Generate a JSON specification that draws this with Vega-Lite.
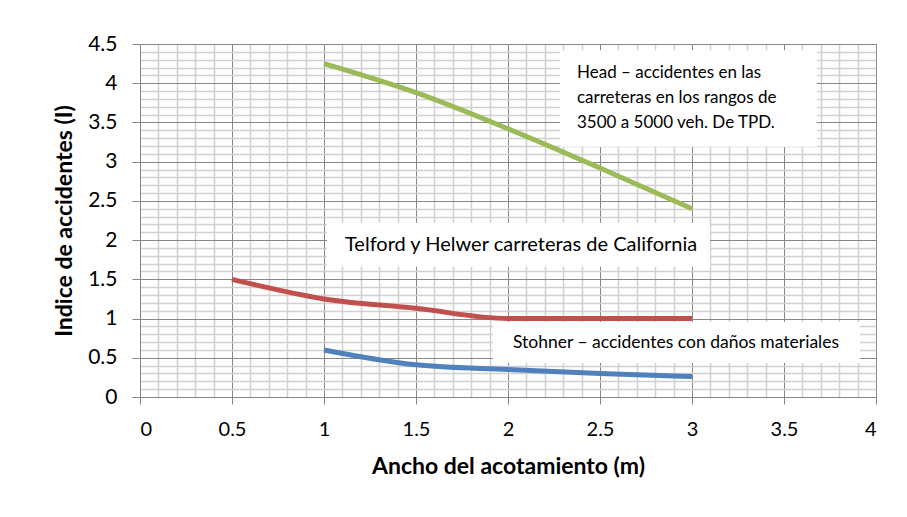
{
  "$schema": "https://vega.github.io/schema/vega-lite/v6.json",
  "width": 736,
  "height": 353,
  "autosize": "none",
  "padding": {"left": 140, "top": 44, "right": 31, "bottom": 120},
  "background": "white",
  "config": {
    "view": {"stroke": "#868686", "strokeWidth": 1},
    "font": "Lato"
  },
  "encoding": {
    "x": {
      "field": "x", "type": "quantitative",
      "scale": {"domain": [0, 4], "nice": false, "zero": false},
      "axis": {
        "values": [0,0.1,0.2,0.3,0.4,0.5,0.6,0.7,0.8,0.9,1,1.1,1.2,1.3,1.4,1.5,1.6,1.7,1.8,1.9,2,2.1,2.2,2.3,2.4,2.5,2.6,2.7,2.8,2.9,3,3.1,3.2,3.3,3.4,3.5,3.6,3.7,3.8,3.9,4],
        "labelExpr": "abs(datum.value*2-round(datum.value*2))<0.001 ? format(datum.value, '~g') : ''",
        "labelOverlap": false,
        "labelFont": "Lato", "labelFontSize": 20, "labelColor": "#000000", "labelPadding": 15,
        "grid": true,
        "gridColor": {"condition": {"test": "abs(datum.value*2-round(datum.value*2))<0.001", "value": "#868686"}, "value": "#d0d0d0"},
        "gridWidth": {"condition": {"test": "abs(datum.value*2-round(datum.value*2))<0.001", "value": 1}, "value": 1.5},
        "tickColor": "#868686",
        "tickOpacity": {"condition": {"test": "abs(datum.value*2-round(datum.value*2))<0.001", "value": 1}, "value": 0},
        "tickSize": 7,
        "domainColor": "#868686",
        "title": "Ancho del acotamiento (m)",
        "titleFont": "Lato", "titleFontSize": 23, "titleFontWeight": "bold", "titleColor": "#000000",
        "titlePadding": 16
      }
    },
    "y": {
      "field": "y", "type": "quantitative",
      "scale": {"domain": [0, 4.5], "nice": false},
      "axis": {
        "values": [0,0.1,0.2,0.3,0.4,0.5,0.6,0.7,0.8,0.9,1,1.1,1.2,1.3,1.4,1.5,1.6,1.7,1.8,1.9,2,2.1,2.2,2.3,2.4,2.5,2.6,2.7,2.8,2.9,3,3.1,3.2,3.3,3.4,3.5,3.6,3.7,3.8,3.9,4,4.1,4.2,4.3,4.4,4.5],
        "labelExpr": "abs(datum.value*2-round(datum.value*2))<0.001 ? format(datum.value, '~g') : ''",
        "labelOverlap": false,
        "labelFont": "Lato", "labelFontSize": 21, "labelColor": "#000000", "labelPadding": 15,
        "grid": true,
        "gridColor": {"condition": {"test": "abs(datum.value*2-round(datum.value*2))<0.001", "value": "#868686"}, "value": "#d0d0d0"},
        "gridWidth": {"condition": {"test": "abs(datum.value*2-round(datum.value*2))<0.001", "value": 1}, "value": 1.5},
        "tickColor": "#868686",
        "tickOpacity": {"condition": {"test": "abs(datum.value*2-round(datum.value*2))<0.001", "value": 1}, "value": 0},
        "tickSize": 8,
        "domainColor": "#868686",
        "title": "Indice de accidentes (I)",
        "titleFont": "Lato", "titleFontSize": 23, "titleFontWeight": "bold", "titleColor": "#000000",
        "titlePadding": 11
      }
    }
  },
  "layer": [
    {
      "data": {"values": [
        {"box": "Head", "x": 2.283, "x2": 3.679, "y": 4.42, "y2": 3.19},
        {"box": "Telford", "x": 1.016, "x2": 3.098, "y": 2.22, "y2": 1.66},
        {"box": "Stohner", "x": 1.918, "x2": 3.913, "y": 0.956, "y2": 0.433}
      ]},
      "mark": {"type": "rect", "fill": "white", "stroke": null},
      "encoding": {"x2": {"field": "x2"}, "y2": {"field": "y2"}}
    },
    {
      "data": {"values": [
        {"serie": "Head", "x": 1, "y": 4.25},
        {"serie": "Head", "x": 1.5, "y": 3.88},
        {"serie": "Head", "x": 2, "y": 3.42},
        {"serie": "Head", "x": 2.5, "y": 2.92},
        {"serie": "Head", "x": 3, "y": 2.4},
        {"serie": "Telford", "x": 0.5, "y": 1.5},
        {"serie": "Telford", "x": 1, "y": 1.25},
        {"serie": "Telford", "x": 1.5, "y": 1.13},
        {"serie": "Telford", "x": 2, "y": 1.0},
        {"serie": "Telford", "x": 2.5, "y": 1.0},
        {"serie": "Telford", "x": 3, "y": 1.0},
        {"serie": "Stohner", "x": 1, "y": 0.6},
        {"serie": "Stohner", "x": 1.5, "y": 0.41},
        {"serie": "Stohner", "x": 2, "y": 0.35},
        {"serie": "Stohner", "x": 2.5, "y": 0.3},
        {"serie": "Stohner", "x": 3, "y": 0.26}
      ]},
      "mark": {"type": "line", "interpolate": "monotone", "strokeWidth": 5, "strokeCap": "butt"},
      "encoding": {
        "color": {"field": "serie", "type": "nominal",
          "scale": {"domain": ["Head", "Telford", "Stohner"], "range": ["#9BBB59", "#C0504D", "#4F81BD"]},
          "legend": null}
      }
    },
    {
      "data": {"values": [
        {"label": ["Head – accidentes en las", "carreteras en los rangos de", "3500 a 5000 veh. De TPD."], "x": 2.375, "y": 4.13, "size": 17},
        {"label": "Telford y Helwer carreteras de California", "x": 1.114, "y": 1.94, "size": 20},
        {"label": "Stohner – accidentes con daños materiales", "x": 2.027, "y": 0.688, "size": 17.5}
      ]},
      "mark": {"type": "text", "align": "left", "baseline": "middle", "lineHeight": 25, "font": "Lato", "color": "#000000"},
      "encoding": {
        "text": {"field": "label"},
        "size": {"field": "size", "type": "quantitative", "scale": null}
      }
    }
  ]
}
